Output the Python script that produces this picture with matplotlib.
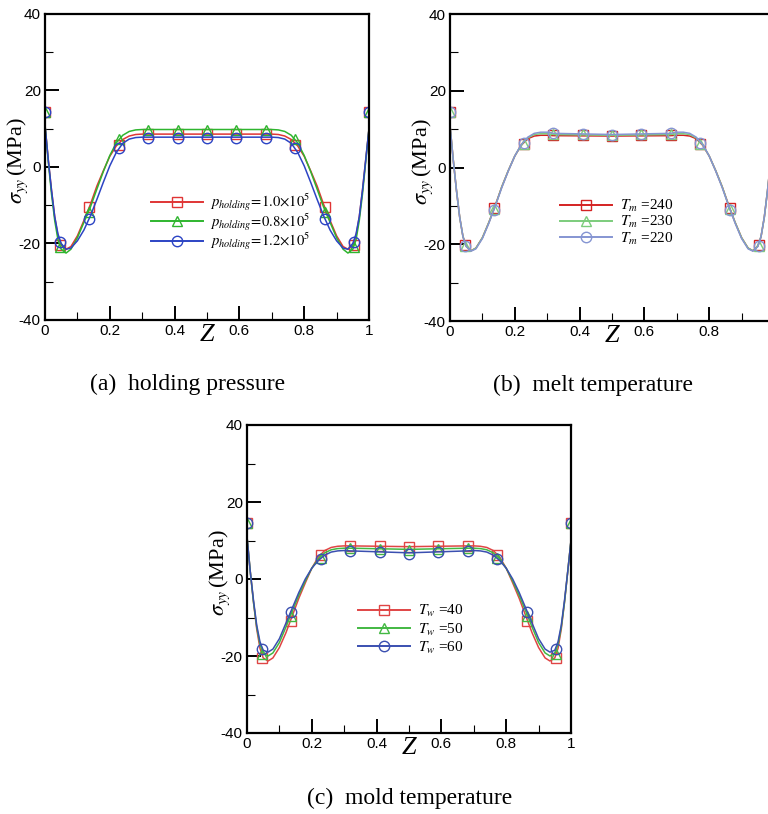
import numpy as np
import matplotlib.pyplot as plt
from matplotlib.ticker import MultipleLocator

plt.rcParams['mathtext.fontset'] = 'stix'
plt.rcParams['font.family'] = 'Liberation Sans'
plt.rcParams['axes.unicode_minus'] = False

# positions of the markers along z
z_mark = [0, 0.045, 0.136, 0.227, 0.318, 0.409, 0.5, 0.591, 0.682, 0.773, 0.864, 0.955, 1.0]
# points
z_line = [0, 0.01, 0.02, 0.03, 0.04, 0.05, 0.065, 0.08, 0.10, 0.12, 0.14, 0.16, 0.18, 0.20,
          0.22, 0.24, 0.26, 0.28, 0.30, 0.32, 0.5, 0.68, 0.70, 0.72, 0.74, 0.76, 0.78, 0.80,
          0.82, 0.84, 0.86, 0.88, 0.90, 0.92, 0.935, 0.95, 0.96, 0.97, 0.98, 0.99, 1.0]
x_ticks = [0, 0.2, 0.4, 0.6, 0.8, 1]

# (a) holding pressure
a_labels = [r'$p_{holding}\!=\!1.0{\times}10^5$', r'$p_{holding}\!=\!0.8{\times}10^5$',
            r'$p_{holding}\!=\!1.2{\times}10^5$']
a_line_red = [11, 2, -6, -13, -18, -20.5, -21.5, -20.8, -18, -14, -9.8, -5, -1, 2.8, 5.5, 7.2, 8.1,
              8.5, 8.6, 8.6, 8.6, 8.6, 8.6, 8.5, 8.1, 7.2, 5.5, 2.8, -1, -5, -9.8, -14, -18, -20.8,
              -21.5, -20.5, -18, -13, -6, 2, 10]
a_line_green = [11, 1.5, -7, -14, -19, -21.5, -22.5, -21.5, -18.5, -14.5, -10.5, -5.8, -1.2, 3, 6.3,
                8.3, 9.3, 9.7, 9.8, 9.8, 9.8, 9.8, 9.8, 9.7, 9.3, 8.3, 6.3, 3, -1.2, -5.8, -10.5,
                -14.5, -18.5, -21.5, -22.5, -21.5, -19, -14, -7, 1.5, 10]
a_line_blue = [11, 2, -6, -13, -17.5, -20, -21.5, -21.2, -19.3, -16.5, -12.8, -8.5, -4, 0.3, 3.8, 6.2,
               7.3, 7.7, 7.8, 7.8, 7.8, 7.8, 7.8, 7.7, 7.3, 6.2, 3.8, 0.3, -4, -8.5, -12.8, -16.5,
               -19.3, -21.2, -21.5, -20, -17.5, -13, -6, 2, 10]
a_mark_red = [14.5, -20.3, -10.5, 5.7, 8.5, 8.5, 8.5, 8.5, 8.5, 5.7, -10.5, -20.3, 14.5]
a_mark_green = [14.5, -21, -11.7, 7.2, 9.8, 9.8, 9.8, 9.8, 9.8, 7.2, -11.7, -21, 14.5]
a_mark_blue = [14.5, -19.5, -13.5, 5, 7.5, 7.5, 7.5, 7.5, 7.5, 5, -13.5, -19.5, 14.5]

# (b) melt temperature
b_labels = [r'$T_m$ =240', r'$T_m$ =230', r'$T_m$ =220']
b_line_red = [11, 2, -6, -13, -18, -20.5, -21.7, -21, -18.3, -14.3, -9.8, -5, -0.8, 3, 5.8, 7.5, 8.2,
              8.4, 8.4, 8.3, 8.2, 8.3, 8.4, 8.4, 8.2, 7.5, 5.8, 3, -0.8, -5, -9.8, -14.3, -18.3, -21,
              -21.7, -20.5, -18, -13, -6, 2, 10]
b_line_green = [11, 2, -6, -13, -18, -20.5, -21.7, -21, -18.3, -14.3, -9.9, -5, -0.8, 3, 5.9, 7.7,
                8.6, 8.8, 8.8, 8.6, 8.4, 8.6, 8.8, 8.8, 8.6, 7.7, 5.9, 3, -0.8, -5, -9.9, -14.3,
                -18.3, -21, -21.7, -20.5, -18, -13, -6, 2, 10]
b_line_blue = [11, 2, -6, -13, -18, -20.6, -21.8, -21.2, -18.5, -14.5, -10, -5.2, -0.9, 3, 6, 7.9,
               8.9, 9.2, 9.2, 8.9, 8.6, 8.9, 9.2, 9.2, 8.9, 7.9, 6, 3, -0.9, -5.2, -10, -14.5,
               -18.5, -21.2, -21.8, -20.6, -18, -13, -6, 2, 10]
b_mark_red = [14.5, -20.3, -10.5, 6.0, 8.5, 8.5, 8.3, 8.5, 8.5, 6.0, -10.5, -20.3, 14.5]
b_mark_green = [14.5, -20.5, -10.8, 6.2, 8.7, 8.6, 8.4, 8.6, 8.7, 6.2, -10.8, -20.5, 14.5]
b_mark_blue = [14.5, -20.5, -11, 6.3, 9.0, 8.7, 8.5, 8.7, 9.0, 6.3, -11, -20.5, 14.5]

# (c) mold temperature
c_labels = [r'$T_w$ =40', r'$T_w$ =50', r'$T_w$ =60']
c_line_red = [11, 2, -6, -13, -18, -20.5, -21.3, -20.5, -17.8, -14, -9.5, -5, -1, 2.8, 5.7, 7.4, 8.2,
              8.5, 8.6, 8.6, 8.4, 8.6, 8.6, 8.5, 8.2, 7.4, 5.7, 2.8, -1, -5, -9.5, -14, -17.8, -20.5,
              -21.3, -20.5, -18, -13, -6, 2, 10]
c_line_green = [11, 2, -6, -12.5, -17, -19.3, -20, -19.2, -16.5, -12.5, -8.3, -4.2, -0.5, 2.8, 5.2,
                6.8, 7.6, 7.9, 8.0, 8.0, 7.7, 8.0, 8.0, 7.9, 7.6, 6.8, 5.2, 2.8, -0.5, -4.2, -8.3,
                -12.5, -16.5, -19.2, -20, -19.3, -17, -12.5, -6, 2, 10]
c_line_blue = [11, 2, -5.5, -12, -16.3, -18.5, -19, -18.2, -15.5, -11.5, -7.5, -3.5, 0, 2.8, 4.8, 6.2,
               7.0, 7.3, 7.4, 7.3, 6.8, 7.3, 7.4, 7.3, 7.0, 6.2, 4.8, 2.8, 0, -3.5, -7.5, -11.5,
               -15.5, -18.2, -19, -18.5, -16.3, -12, -5.5, 2, 10]
c_mark_red = [14.5, -20.5, -10.8, 6.2, 8.7, 8.5, 8.3, 8.5, 8.7, 6.2, -10.8, -20.5, 14.5]
c_mark_green = [14.5, -19.5, -9.5, 5.5, 8.0, 7.8, 7.6, 7.8, 8.0, 5.5, -9.5, -19.5, 14.5]
c_mark_blue = [14.5, -18.2, -8.6, 5.2, 7.4, 7.0, 6.5, 7.0, 7.4, 5.2, -8.6, -18.2, 14.5]

markers = ['s', '^', 'o']


def panel(ax, lines, marks, labels, colors, leg_anchor, leg_size, leg_space, tick_labels):
    for yl, ym, lab, c, m in zip(lines, marks, labels, colors, markers):
        ax.plot(z_line, yl, color=c, lw=1.1)
        ax.plot(z_mark, ym, ls='none', marker=m, ms=7.5, mfc='none', mec=c, mew=1.0)
        ax.plot([], [], color=c, lw=1.4, marker=m, ms=7.5, mfc='none', mec=c, mew=1.0, label=lab)
    ax.set_xlim(0, 1)
    ax.set_ylim(-40, 40)
    ax.xaxis.set_minor_locator(MultipleLocator(0.1))
    ax.yaxis.set_major_locator(MultipleLocator(20))
    ax.yaxis.set_minor_locator(MultipleLocator(10))
    ax.set_xticks(x_ticks)
    ax.set_xticklabels(tick_labels)
    ax.tick_params(which='major', direction='in', length=10, width=1.4, labelsize=11, pad=3)
    ax.tick_params(which='minor', direction='in', length=6, width=0.8)
    for s in ax.spines.values():
        s.set_linewidth(1.6)
    ax.set_ylabel(r'$\sigma_{yy}\,$(MPa)', fontsize=16, family='Liberation Serif')
    ax.yaxis.set_label_coords(-0.045, 0.52)
    ax.text(0.5, -0.05, 'Z', transform=ax.transAxes, ha='center', va='center', fontsize=19,
            family='Liberation Serif', style='italic')
    leg_w = 52 / (leg_size * 100 / 72)
    ax.legend(loc='upper left', bbox_to_anchor=leg_anchor, frameon=False,
              handlelength=leg_w, handletextpad=0.5, labelspacing=leg_space, borderpad=0,
              borderaxespad=0, prop={'family': 'Liberation Serif', 'size': leg_size})


fig = plt.figure(figsize=(7.68, 8.14), dpi=100)
ax_a = fig.add_axes([45 / 768, 1 - 320 / 814, 324 / 768, 306 / 814])
ax_b = fig.add_axes([450 / 768, 1 - 321 / 814, 324 / 768, 307 / 814])
ax_c = fig.add_axes([247 / 768, 1 - 733 / 814, 324 / 768, 308 / 814])

full_labels = ['0', '0.2', '0.4', '0.6', '0.8', '1']
panel(ax_a, [a_line_red, a_line_green, a_line_blue], [a_mark_red, a_mark_green, a_mark_blue],
      a_labels, ['#e03535', '#2fb52f', '#2c44c4'], (0.327, 0.42), 10.5, -0.1, full_labels)
panel(ax_b, [b_line_red, b_line_green, b_line_blue], [b_mark_red, b_mark_green, b_mark_blue],
      b_labels, ['#d42222', '#7ccc7c', '#8595d2'], (0.34, 0.40), 11, 0.0, full_labels[:-1] + [''])
panel(ax_c, [c_line_red, c_line_green, c_line_blue], [c_mark_red, c_mark_green, c_mark_blue],
      c_labels, ['#e04545', '#42b842', '#3a4fb0'], (0.343, 0.422), 11, 0.15, full_labels)

fig.text(188 / 768, 1 - 384 / 814, '(a)  holding pressure', ha='center', va='center',
         fontsize=17, family='Liberation Serif')
fig.text(593 / 768, 1 - 385 / 814, '(b)  melt temperature', ha='center', va='center',
         fontsize=17, family='Liberation Serif')
fig.text(410 / 768, 1 - 798 / 814, '(c)  mold temperature', ha='center', va='center',
         fontsize=17, family='Liberation Serif')

fig.savefig('out.png', dpi=100)
